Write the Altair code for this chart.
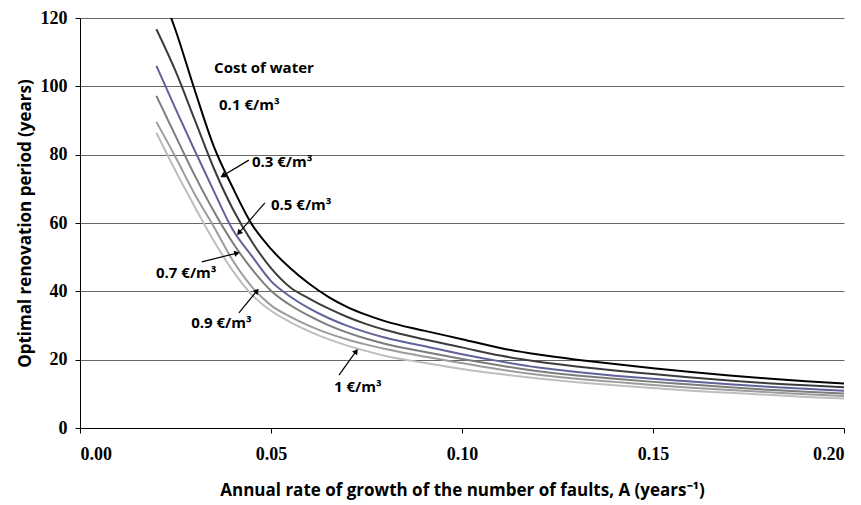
import math
import altair as alt
import pandas as pd

# ---------------- data ----------------
A = [0.02, 0.025, 0.03, 0.035, 0.04, 0.045, 0.05, 0.055, 0.06, 0.065, 0.07, 0.075,
     0.08, 0.09, 0.10, 0.11, 0.12, 0.13, 0.14, 0.15, 0.16, 0.17, 0.18, 0.19, 0.20]

t_0_1 = [131, 116.5, 99, 82.5, 70.3, 59.6, 52.4, 46.8, 42.2, 38.4, 35.4, 33.1,
         31.2, 28.5, 26.0, 23.4, 21.5, 20.0, 18.7, 17.5, 16.4, 15.4, 14.5, 13.7, 13.0]
t_0_3 = [116.7, 104.5, 90.3, 76.1, 64.1, 54.5, 46.8, 41.2, 37.9, 35.0, 32.5, 30.4,
         28.7, 26.0, 23.6, 21.2, 19.4, 18.0, 16.8, 15.8, 14.8, 13.9, 13.1, 12.5, 11.9]
t_0_5 = [106, 93.5, 81.3, 69.4, 58.0, 50.3, 43.0, 38.5, 35.0, 32.2, 29.9, 28.0,
         26.4, 24.0, 21.6, 19.5, 17.7, 16.4, 15.3, 14.4, 13.6, 12.8, 12.1, 11.5, 10.9]
t_0_7 = [97.2, 85.5, 74.0, 63.5, 54.2, 46.5, 40.2, 36.0, 32.8, 30.1, 27.9, 26.1,
         24.6, 22.3, 20.2, 18.3, 16.6, 15.4, 14.4, 13.5, 12.7, 11.9, 11.2, 10.6, 10.1]
t_0_9 = [89.6, 79.3, 68.5, 59.0, 49.0, 41.3, 35.9, 32.6, 29.9, 27.7, 25.9, 24.4,
         23.1, 20.9, 19.0, 17.1, 15.6, 14.4, 13.5, 12.6, 11.8, 11.1, 10.5, 9.9, 9.4]
t_1_0 = [86.4, 75.3, 64.8, 54.8, 46.0, 39.0, 34.3, 31.0, 28.3, 26.0, 24.1, 22.5,
         21.1, 19.1, 17.3, 15.8, 14.5, 13.4, 12.5, 11.7, 10.9, 10.3, 9.7, 9.1, 8.6]

series_names = ["0.1", "0.3", "0.5", "0.7", "0.9", "1"]
series_values = [t_0_1, t_0_3, t_0_5, t_0_7, t_0_9, t_1_0]
series_colors = ["#000000", "#3c3c3c", "#62629a", "#7c7c7c", "#9c9c9c", "#bebebe"]

# annotation labels (data coordinates)
label_text = ["Cost of water", "0.1 €/m³", "0.3 €/m³", "0.5 €/m³", "0.7 €/m³", "0.9 €/m³", "1 €/m³"]
label_x = [0.0351, 0.0364, 0.0450, 0.0500, 0.0199, 0.0291, 0.0665]
label_y = [105.4, 94.5, 77.9, 65.3, 45.4, 30.7, 12.0]

# arrows: start -> tip
arrow_x1 = [0.0442, 0.0484, 0.0319, 0.0416, 0.0678]
arrow_y1 = [78.4, 65.9, 48.6, 33.7, 15.5]
arrow_x2 = [0.0374, 0.0416, 0.0411, 0.0463, 0.0723]
arrow_y2 = [73.8, 57.1, 51.2, 40.1, 22.5]

# ---------------- layout ----------------
W, H = 764, 410
X_MAX, Y_MAX = 0.2, 120
TITLE_FONT = "Open Sans"

rows = []
for name, vals in zip(series_names, series_values):
    for a, t in zip(A, vals):
        rows.append({"A": a, "T": t, "cost": name})
df = pd.DataFrame(rows)

labels_df = pd.DataFrame({"x": label_x, "y": label_y, "text": label_text})

angles = []
for x1, y1, x2, y2 in zip(arrow_x1, arrow_y1, arrow_x2, arrow_y2):
    dx = (x2 - x1) * W / X_MAX
    dy_down = -(y2 - y1) * H / Y_MAX
    ang = math.degrees(math.atan2(dx, -dy_down))
    angles.append((ang + 360) % 360)
arrows_df = pd.DataFrame({"x1": arrow_x1, "y1": arrow_y1, "x2": arrow_x2, "y2": arrow_y2, "angle": angles})

x_scale = alt.Scale(domain=[0, X_MAX], nice=False, zero=True)
y_scale = alt.Scale(domain=[0, Y_MAX], nice=False)

x_axis = alt.Axis(
    values=[0, 0.05, 0.10, 0.15, 0.20], format=".2f", grid=False,
    title="Annual rate of growth of the number of faults, A (years⁻¹)",
    titleFont=TITLE_FONT, titleFontSize=17, titleFontWeight="bold", titleColor="#000",
    titleX=382, titleY=62, titleBaseline="middle",
    labelFont="Liberation Serif", labelFontSize=18, labelFontWeight="bold", labelColor="#000",
    labelPadding=12, tickSize=5, tickColor="#000", domainColor="#000",
)
y_axis = alt.Axis(
    values=[0, 20, 40, 60, 80, 100, 120], format="d", grid=True,
    gridColor="#666666", gridWidth=1,
    title="Optimal renovation period (years)",
    titleFont=TITLE_FONT, titleFontSize=17, titleFontWeight="bold", titleColor="#000",
    titleX=-55, titleY=205, titleBaseline="middle",
    labelFont="Liberation Serif", labelFontSize=18, labelFontWeight="bold", labelColor="#000",
    labelPadding=8, tickSize=5, tickColor="#000", domainColor="#000",
)

lines = alt.Chart(df).mark_line(strokeWidth=2, clip=True, interpolate="monotone").encode(
    x=alt.X("A:Q", scale=x_scale, axis=x_axis),
    y=alt.Y("T:Q", scale=y_scale, axis=y_axis),
    color=alt.Color("cost:N", scale=alt.Scale(domain=series_names, range=series_colors), legend=None),
    order=alt.Order("A:Q"),
    detail="cost:N",
)

texts = alt.Chart(labels_df).mark_text(
    align="left", baseline="middle", font=TITLE_FONT, fontSize=15, fontWeight="bold", color="#000"
).encode(
    x=alt.X("x:Q", scale=x_scale),
    y=alt.Y("y:Q", scale=y_scale),
    text="text:N",
)

arrow_lines = alt.Chart(arrows_df).mark_rule(color="#000", strokeWidth=1.2).encode(
    x=alt.X("x1:Q", scale=x_scale), y=alt.Y("y1:Q", scale=y_scale),
    x2="x2:Q", y2="y2:Q",
)

arrow_heads = alt.Chart(arrows_df).mark_point(
    shape="triangle-up", filled=True, color="#000", size=40, opacity=1
).encode(
    x=alt.X("x2:Q", scale=x_scale), y=alt.Y("y2:Q", scale=y_scale),
    angle=alt.Angle("angle:Q", scale=None),
)

chart = alt.layer(lines, arrow_lines, arrow_heads, texts).properties(
    width=W, height=H,
    autosize=alt.AutoSizeParams(type="none"),
    padding={"left": 80, "top": 18, "right": 17, "bottom": 77},
    background="white",
).configure_view(stroke=None)

chart.save("out.html", embed_options={"renderer": "svg", "actions": False})
